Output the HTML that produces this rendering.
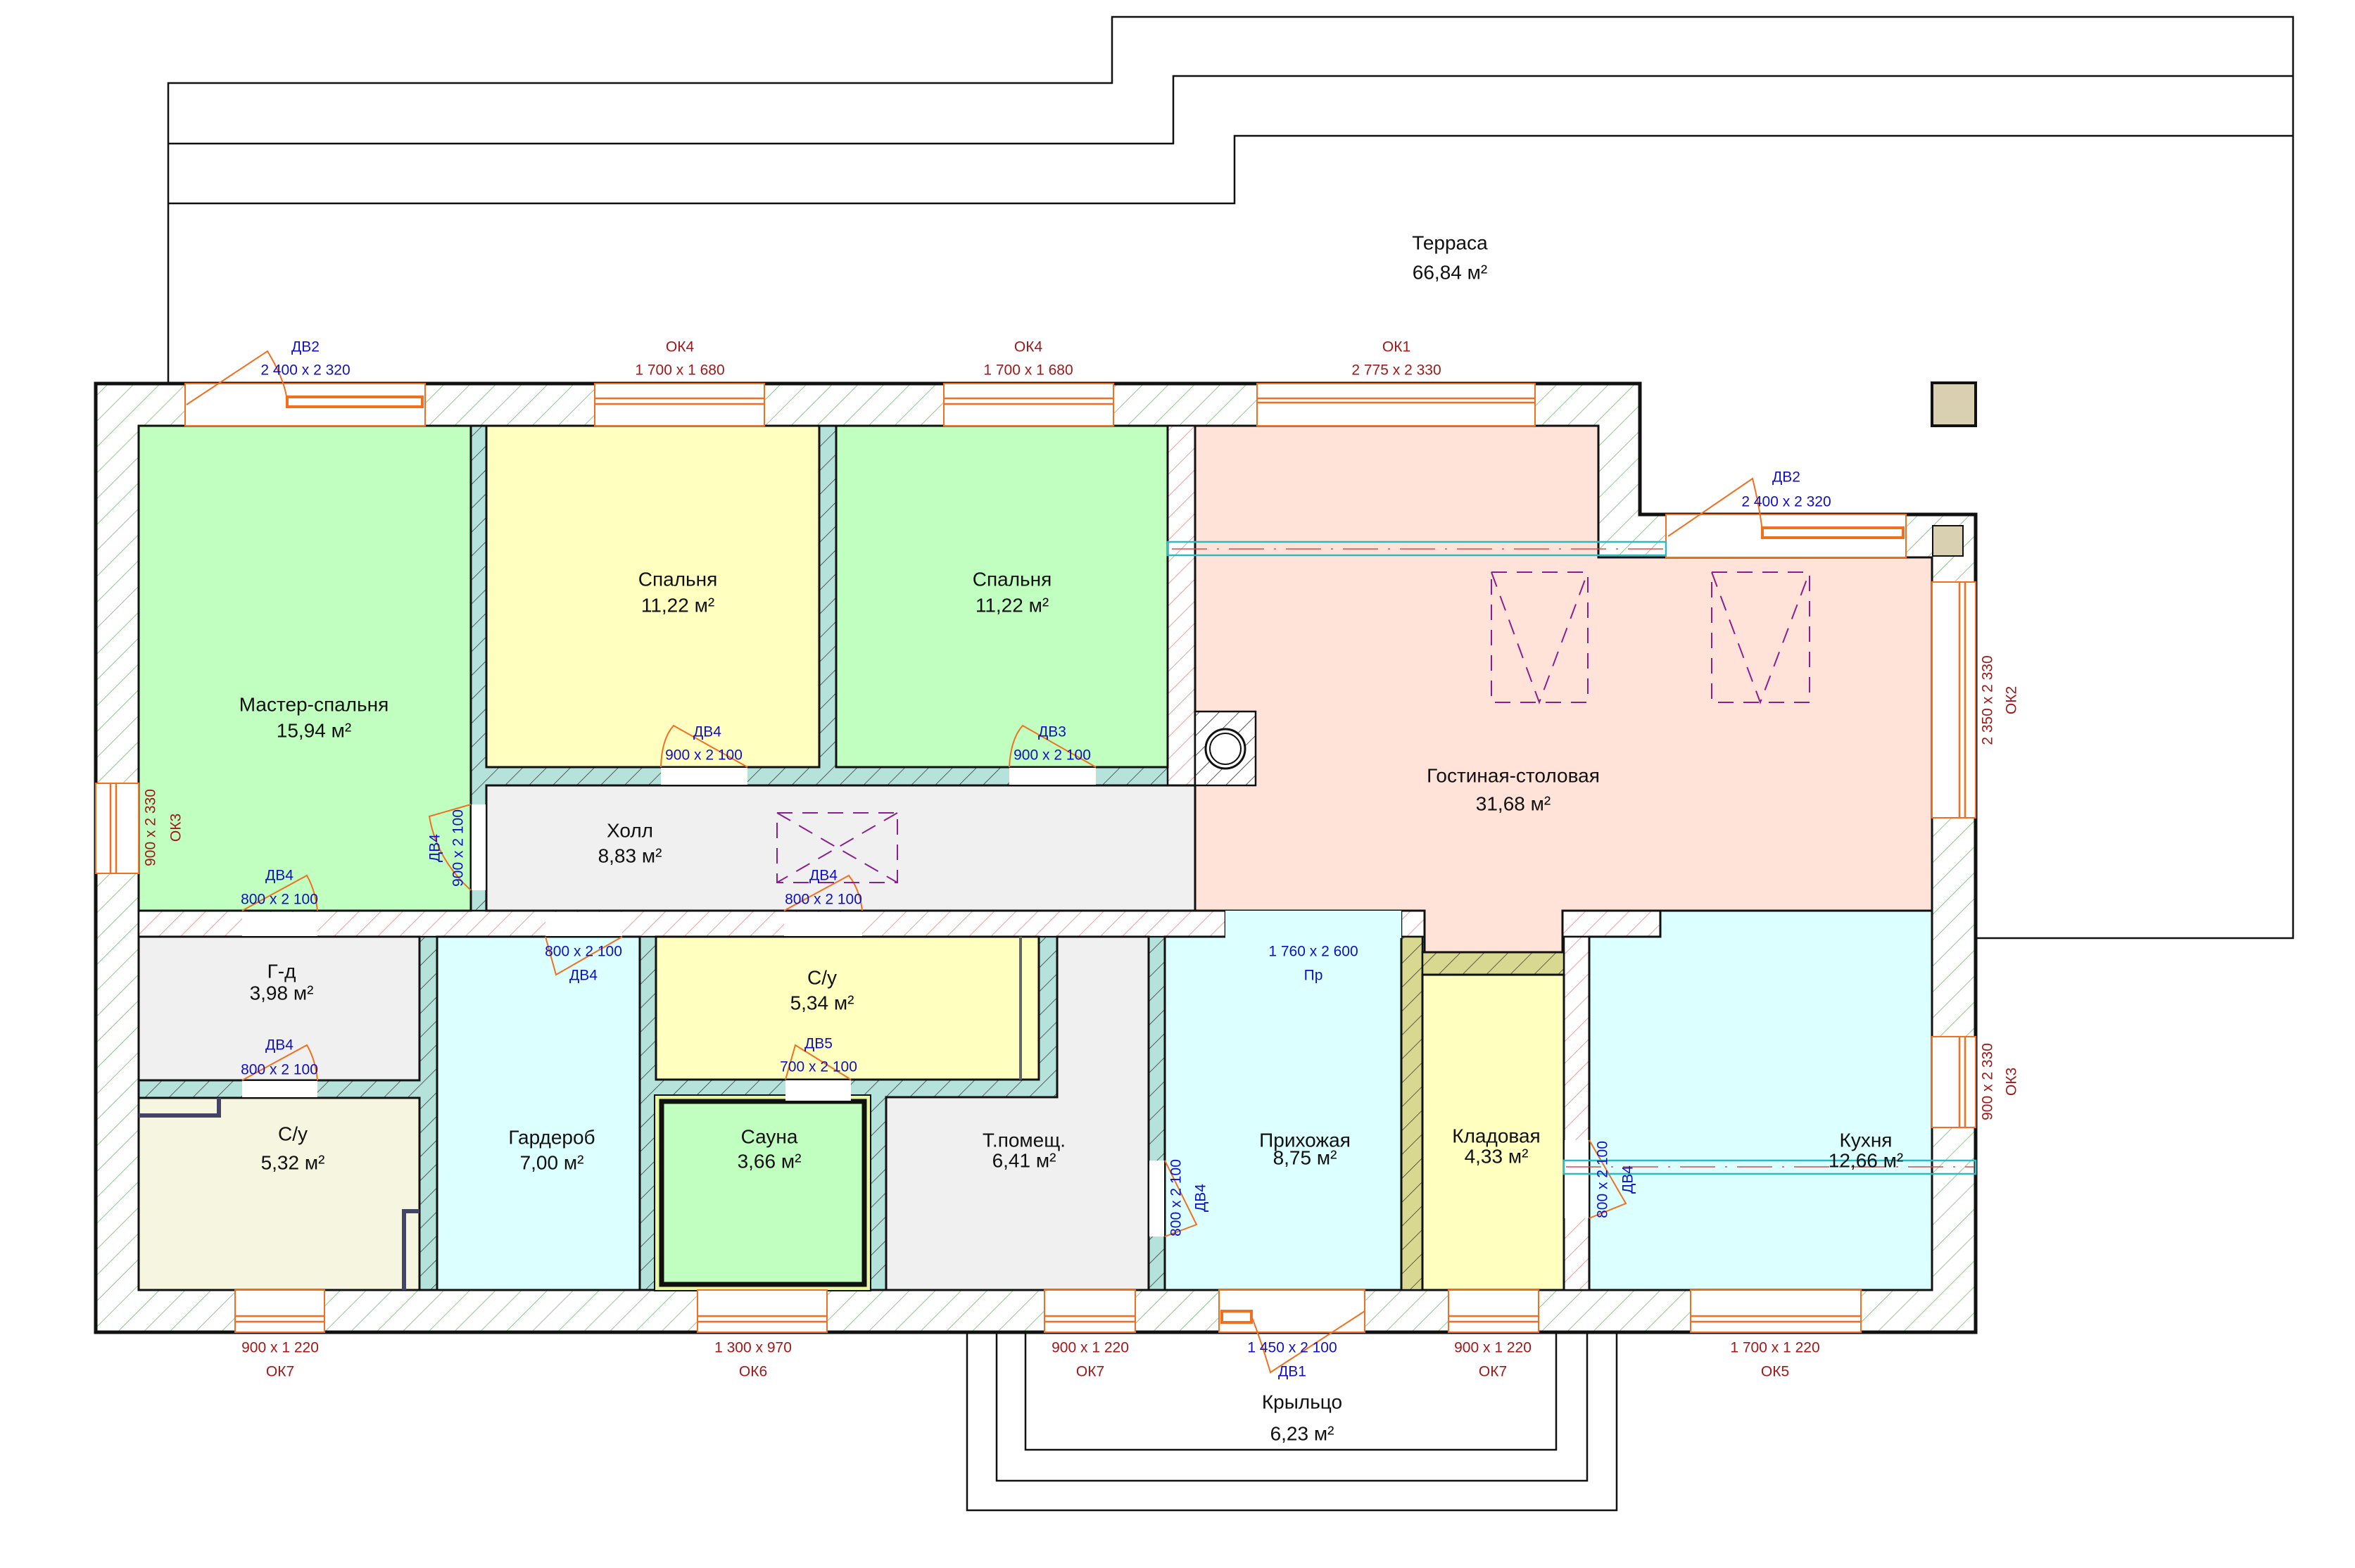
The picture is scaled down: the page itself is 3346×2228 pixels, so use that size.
<!DOCTYPE html>
<html><head><meta charset="utf-8">
<style>
html,body{margin:0;padding:0;background:#fff;}
svg{display:block;}
text{font-family:"Liberation Sans Narrow","Liberation Sans","DejaVu Sans",sans-serif;}
.rm{font-size:28px;fill:#111;text-anchor:middle;dominant-baseline:central;}
.bl{font-size:21px;fill:#1010c0;text-anchor:middle;dominant-baseline:central;}
.rd{font-size:21px;fill:#a01818;text-anchor:middle;dominant-baseline:central;}
</style></head>
<body>
<svg width="3346" height="2228" viewBox="0 0 3346 2228" xmlns="http://www.w3.org/2000/svg">
<defs>
<pattern id="hg" patternUnits="userSpaceOnUse" width="26" height="26" patternTransform="rotate(45)">
<rect width="26" height="26" fill="#fff"/><line x1="0" y1="0" x2="0" y2="26" stroke="#70b070" stroke-width="1.5"/></pattern>
<pattern id="hr" patternUnits="userSpaceOnUse" width="22" height="22" patternTransform="rotate(45)">
<rect width="22" height="22" fill="#fff"/><line x1="0" y1="0" x2="0" y2="22" stroke="#e08080" stroke-width="1.5"/></pattern>
<pattern id="ht" patternUnits="userSpaceOnUse" width="24" height="24" patternTransform="rotate(45)">
<rect width="24" height="24" fill="#b6e2dc"/><line x1="0" y1="0" x2="0" y2="24" stroke="#333" stroke-width="1.5"/></pattern>
<pattern id="ho" patternUnits="userSpaceOnUse" width="24" height="24" patternTransform="rotate(45)">
<rect width="24" height="24" fill="#d8d890"/><line x1="0" y1="0" x2="0" y2="24" stroke="#333" stroke-width="1.5"/></pattern>
<pattern id="hk" patternUnits="userSpaceOnUse" width="20" height="20" patternTransform="rotate(45)">
<rect width="20" height="20" fill="#fff"/><line x1="0" y1="0" x2="0" y2="20" stroke="#222" stroke-width="1.5"/></pattern>
</defs>

<g fill="none" stroke="#111" stroke-width="2.5">
<polyline points="239,545 239,118 1580,118 1580,24 3258,24 3258,1333 2807,1333"/>
<polyline points="239,204 1667,204 1667,108 3258,108"/>
<polyline points="239,289 1754,289 1754,193 3258,193"/>
<polyline points="1374,1893 1374,2146 2297,2146 2297,1893"/>
<polyline points="1416,1893 1416,2104 2255,2104 2255,1893"/>
<polyline points="1457,1893 1457,2060 2211,2060 2211,1893"/>
</g>
<text class="rm" x="2060" y="345">Терраса</text>
<text class="rm" x="2060" y="387">66,84 м²</text>
<text class="rm" x="1850" y="1992">Крыльцо</text>
<text class="rm" x="1850" y="2037">6,23 м²</text>

<polygon points="136,545 2330,545 2330,731 2807,731 2807,1893 136,1893" fill="url(#hg)" stroke="#111" stroke-width="5"/>
<polygon points="197,605 2271,605 2271,792 2745,792 2745,1833 197,1833" fill="url(#ht)" stroke="#111" stroke-width="3"/>

<g fill="url(#hr)" stroke="#111" stroke-width="2.5">
<rect x="1659" y="605" width="39" height="511"/>
<rect x="197" y="1294" width="1544" height="37"/>
<rect x="1991" y="1294" width="33" height="37"/>
<rect x="2220" y="1294" width="139" height="37"/>
<rect x="2222" y="1331" width="36" height="502"/>
</g>
<g fill="url(#ho)" stroke="#111" stroke-width="2.5">
<rect x="1991" y="1331" width="30" height="502"/>
<rect x="2021" y="1353" width="201" height="32"/>
</g>

<g stroke="#111" stroke-width="3">
<rect x="197" y="605" width="472" height="689" fill="#c0ffc0"/>
<rect x="691" y="605" width="473" height="485" fill="#ffffc0"/>
<rect x="1188" y="605" width="471" height="485" fill="#c0ffc0"/>
<rect x="691" y="1116" width="1007" height="178" fill="#f0f0f0"/>
<polygon points="1698,605 2271,605 2271,792 2745,792 2745,1294 2220,1294 2220,1353 2024,1353 2024,1294 1698,1294" fill="#ffe2d8"/>
<rect x="197" y="1331" width="399" height="204" fill="#f0f0f0"/>
<rect x="197" y="1560" width="399" height="273" fill="#f5f5e0"/>
<rect x="621" y="1331" width="288" height="502" fill="#dcffff"/>
<rect x="932" y="1331" width="544" height="203" fill="#ffffc0"/>
<polygon points="1502,1331 1632,1331 1632,1833 1259,1833 1259,1559 1502,1559" fill="#f0f0f0"/>
<rect x="1655" y="1331" width="336" height="502" fill="#dcffff"/>
<rect x="2021" y="1385" width="201" height="448" fill="#ffffc0"/>
<polygon points="2359,1294 2745,1294 2745,1833 2258,1833 2258,1331 2359,1331" fill="#dcffff"/>
</g>
<rect x="1741" y="1294" width="250" height="39" fill="#dcffff"/>
<rect x="930" y="1556" width="307" height="278" fill="#e8f8a0" stroke="#111" stroke-width="2"/>
<rect x="940" y="1565" width="288" height="260" fill="#c0ffc0" stroke="#111" stroke-width="7"/>
<line x1="1450" y1="1331" x2="1450" y2="1534" stroke="#666" stroke-width="4"/>
<polyline points="197,1585 311,1585 311,1560" fill="none" stroke="#446" stroke-width="6"/>
<polyline points="574,1833 574,1721 596,1721" fill="none" stroke="#446" stroke-width="6"/>

<rect x="1698" y="1011" width="86" height="105" fill="url(#hk)" stroke="#111" stroke-width="2.5"/>
<circle cx="1741" cy="1064" r="28" fill="#fff" stroke="#111" stroke-width="3"/>
<circle cx="1741" cy="1064" r="22" fill="#fff" stroke="#111" stroke-width="2"/>

<rect x="2745" y="544" width="62" height="61" fill="#d8d0b0" stroke="#111" stroke-width="4"/>
<rect x="2746" y="747" width="43" height="43" fill="#d8d0b0" stroke="#111" stroke-width="2"/>

<g fill="#fff" stroke="#f07020" stroke-width="2">
<rect x="263" y="545" width="341" height="60"/>
<rect x="845" y="545" width="241" height="60"/>
<rect x="1341" y="545" width="241" height="60"/>
<rect x="1786" y="545" width="395" height="60"/>
<rect x="2367" y="731" width="341" height="61"/>
<rect x="2745" y="827" width="62" height="335"/>
<rect x="2745" y="1473" width="62" height="129"/>
<rect x="136" y="1113" width="61" height="128"/>
<rect x="334" y="1833" width="127" height="60"/>
<rect x="991" y="1833" width="184" height="60"/>
<rect x="1484" y="1833" width="129" height="60"/>
<rect x="1732" y="1833" width="207" height="60"/>
<rect x="2058" y="1833" width="128" height="60"/>
<rect x="2402" y="1833" width="242" height="60"/>
</g>
<g fill="#fff" stroke="none">
<rect x="939" y="1091" width="123" height="24"/>
<rect x="1434" y="1091" width="123" height="24"/>
<rect x="344" y="1296" width="107" height="34"/>
<rect x="775" y="1296" width="109" height="34"/>
<rect x="1114" y="1296" width="111" height="34"/>
<rect x="344" y="1536" width="107" height="23"/>
<rect x="1116" y="1535" width="93" height="29"/>
<rect x="670" y="1143" width="20" height="122"/>
<rect x="1633" y="1649" width="21" height="108"/>
<rect x="2223" y="1620" width="34" height="111"/>
</g>
<g fill="none" stroke="#f07020" stroke-width="2.5">
<line x1="845" y1="566" x2="1086" y2="566"/><line x1="845" y1="574" x2="1086" y2="574"/>
<line x1="1341" y1="566" x2="1582" y2="566"/><line x1="1341" y1="574" x2="1582" y2="574"/>
<line x1="1786" y1="566" x2="2181" y2="566"/><line x1="1786" y1="572" x2="2181" y2="572"/>
<rect x="408" y="564" width="192" height="14" stroke-width="4"/>
<rect x="2504" y="750" width="200" height="14" stroke-width="4"/>
<line x1="2784" y1="827" x2="2784" y2="1162"/><line x1="2792" y1="827" x2="2792" y2="1162"/>
<line x1="2784" y1="1473" x2="2784" y2="1602"/><line x1="2792" y1="1473" x2="2792" y2="1602"/>
<line x1="157" y1="1113" x2="157" y2="1241"/><line x1="165" y1="1113" x2="165" y2="1241"/>
<line x1="334" y1="1870" x2="461" y2="1870"/><line x1="334" y1="1878" x2="461" y2="1878"/>
<line x1="991" y1="1870" x2="1175" y2="1870"/><line x1="991" y1="1878" x2="1175" y2="1878"/>
<line x1="1484" y1="1870" x2="1613" y2="1870"/><line x1="1484" y1="1878" x2="1613" y2="1878"/>
<line x1="2058" y1="1870" x2="2186" y2="1870"/><line x1="2058" y1="1878" x2="2186" y2="1878"/>
<line x1="2402" y1="1870" x2="2644" y2="1870"/><line x1="2402" y1="1878" x2="2644" y2="1878"/>
<rect x="1736" y="1863" width="42" height="16" stroke-width="4"/>
</g>
<g fill="none" stroke="#f07020" stroke-width="2">
<path d="M265,575 L380,499 Q405,540 408,570"/>
<path d="M2370,762 L2490,680 Q2500,720 2504,755"/>
<path d="M939,1090 Q940,1050 957,1031 L1062,1090"/>
<path d="M1434,1090 Q1436,1050 1453,1031 L1557,1090"/>
<path d="M344,1294 L436,1244 Q448,1265 451,1294"/>
<path d="M1114,1294 L1206,1244 Q1222,1265 1225,1294"/>
<path d="M344,1535 L436,1485 Q448,1505 451,1535"/>
<path d="M1116,1534 L1130,1485 L1209,1534"/>
<path d="M775,1331 L790,1385 L884,1331"/>
<path d="M669,1143 L610,1160 Q620,1220 669,1265"/>
<path d="M1655,1649 L1700,1740 L1655,1757"/>
<path d="M2258,1620 L2310,1710 L2258,1731"/>
<path d="M1939,1863 L1805,1950 Q1790,1900 1778,1870"/>
</g>

<rect x="1659" y="770" width="708" height="19" fill="none" stroke="#30b8c0" stroke-width="2.5"/>
<line x1="1665" y1="780" x2="2365" y2="780" stroke="#d05050" stroke-width="1.5" stroke-dasharray="50,14,3,14"/>
<rect x="2222" y="1649" width="585" height="19" fill="none" stroke="#30b8c0" stroke-width="2.5"/>
<line x1="2225" y1="1658" x2="2805" y2="1658" stroke="#d05050" stroke-width="1.5" stroke-dasharray="50,14,3,14"/>

<g fill="none" stroke="#8a2090" stroke-width="2" stroke-dasharray="22,14">
<rect x="1104" y="1155" width="171" height="99"/>
<path d="M1104,1155 L1275,1254 M1275,1155 L1104,1254"/>
<rect x="2119" y="813" width="137" height="185"/>
<path d="M2119,813 L2187,998 L2256,813"/>
<rect x="2432" y="813" width="139" height="185"/>
<path d="M2432,813 L2501,998 L2571,813"/>
</g>

<text class="rm" x="446" y="1001">Мастер-спальня</text><text class="rm" x="446" y="1038">15,94 м²</text>
<text class="rm" x="963" y="823">Спальня</text><text class="rm" x="963" y="860">11,22 м²</text>
<text class="rm" x="1438" y="823">Спальня</text><text class="rm" x="1438" y="860">11,22 м²</text>
<text class="rm" x="895" y="1180">Холл</text><text class="rm" x="895" y="1216">8,83 м²</text>
<text class="rm" x="2150" y="1102">Гостиная-столовая</text><text class="rm" x="2150" y="1142">31,68 м²</text>
<text class="rm" x="400" y="1380">Г-д</text><text class="rm" x="400" y="1411">3,98 м²</text>
<text class="rm" x="416" y="1611">С/у</text><text class="rm" x="416" y="1652">5,32 м²</text>
<text class="rm" x="784" y="1616">Гардероб</text><text class="rm" x="784" y="1652">7,00 м²</text>
<text class="rm" x="1093" y="1615">Сауна</text><text class="rm" x="1093" y="1650">3,66 м²</text>
<text class="rm" x="1168" y="1389">С/у</text><text class="rm" x="1168" y="1425">5,34 м²</text>
<text class="rm" x="1455" y="1620">Т.помещ.</text><text class="rm" x="1455" y="1649">6,41 м²</text>
<text class="rm" x="1854" y="1620">Прихожая</text><text class="rm" x="1854" y="1645">8,75 м²</text>
<text class="rm" x="2126" y="1614">Кладовая</text><text class="rm" x="2126" y="1643">4,33 м²</text>
<text class="rm" x="2651" y="1620">Кухня</text><text class="rm" x="2651" y="1649">12,66 м²</text>

<text class="bl" x="434" y="493">ДВ2</text><text class="bl" x="434" y="526">2 400 x 2 320</text>
<text class="rd" x="966" y="493">ОК4</text><text class="rd" x="966" y="526">1 700 x 1 680</text>
<text class="rd" x="1461" y="493">ОК4</text><text class="rd" x="1461" y="526">1 700 x 1 680</text>
<text class="rd" x="1984" y="493">ОК1</text><text class="rd" x="1984" y="526">2 775 x 2 330</text>
<text class="bl" x="2538" y="678">ДВ2</text><text class="bl" x="2538" y="713">2 400 x 2 320</text>
<text class="rd" transform="translate(2824,995) rotate(-90)">2 350 x 2 330</text>
<text class="rd" transform="translate(2858,995) rotate(-90)">ОК2</text>
<text class="rd" transform="translate(2824,1537) rotate(-90)">900 x 2 330</text>
<text class="rd" transform="translate(2858,1537) rotate(-90)">ОК3</text>
<text class="rd" transform="translate(214,1176) rotate(-90)">900 x 2 330</text>
<text class="rd" transform="translate(250,1176) rotate(-90)">ОК3</text>
<text class="rd" x="398" y="1915">900 x 1 220</text><text class="rd" x="398" y="1949">ОК7</text>
<text class="rd" x="1070" y="1915">1 300 x 970</text><text class="rd" x="1070" y="1949">ОК6</text>
<text class="rd" x="1549" y="1915">900 x 1 220</text><text class="rd" x="1549" y="1949">ОК7</text>
<text class="bl" x="1836" y="1915">1 450 x 2 100</text><text class="bl" x="1836" y="1949">ДВ1</text>
<text class="rd" x="2121" y="1915">900 x 1 220</text><text class="rd" x="2121" y="1949">ОК7</text>
<text class="rd" x="2522" y="1915">1 700 x 1 220</text><text class="rd" x="2522" y="1949">ОК5</text>

<text class="bl" x="1005" y="1040">ДВ4</text><text class="bl" x="1000" y="1073">900 x 2 100</text>
<text class="bl" x="1495" y="1040">ДВ3</text><text class="bl" x="1495" y="1073">900 x 2 100</text>
<text class="bl" x="397" y="1244">ДВ4</text><text class="bl" x="397" y="1278">800 x 2 100</text>
<text class="bl" x="1170" y="1244">ДВ4</text><text class="bl" x="1170" y="1278">800 x 2 100</text>
<text class="bl" transform="translate(618,1205) rotate(-90)">ДВ4</text>
<text class="bl" transform="translate(651,1205) rotate(-90)">900 x 2 100</text>
<text class="bl" x="829" y="1352">800 x 2 100</text><text class="bl" x="829" y="1386">ДВ4</text>
<text class="bl" x="397" y="1485">ДВ4</text><text class="bl" x="397" y="1520">800 x 2 100</text>
<text class="bl" x="1163" y="1483">ДВ5</text><text class="bl" x="1163" y="1516">700 x 2 100</text>
<text class="bl" x="1866" y="1352">1 760 x 2 600</text><text class="bl" x="1866" y="1386">Пр</text>
<text class="bl" transform="translate(1671,1702) rotate(-90)">800 x 2 100</text>
<text class="bl" transform="translate(1706,1702) rotate(-90)">ДВ4</text>
<text class="bl" transform="translate(2277,1676) rotate(-90)">800 x 2 100</text>
<text class="bl" transform="translate(2313,1676) rotate(-90)">ДВ4</text>
</svg>
</body></html>
